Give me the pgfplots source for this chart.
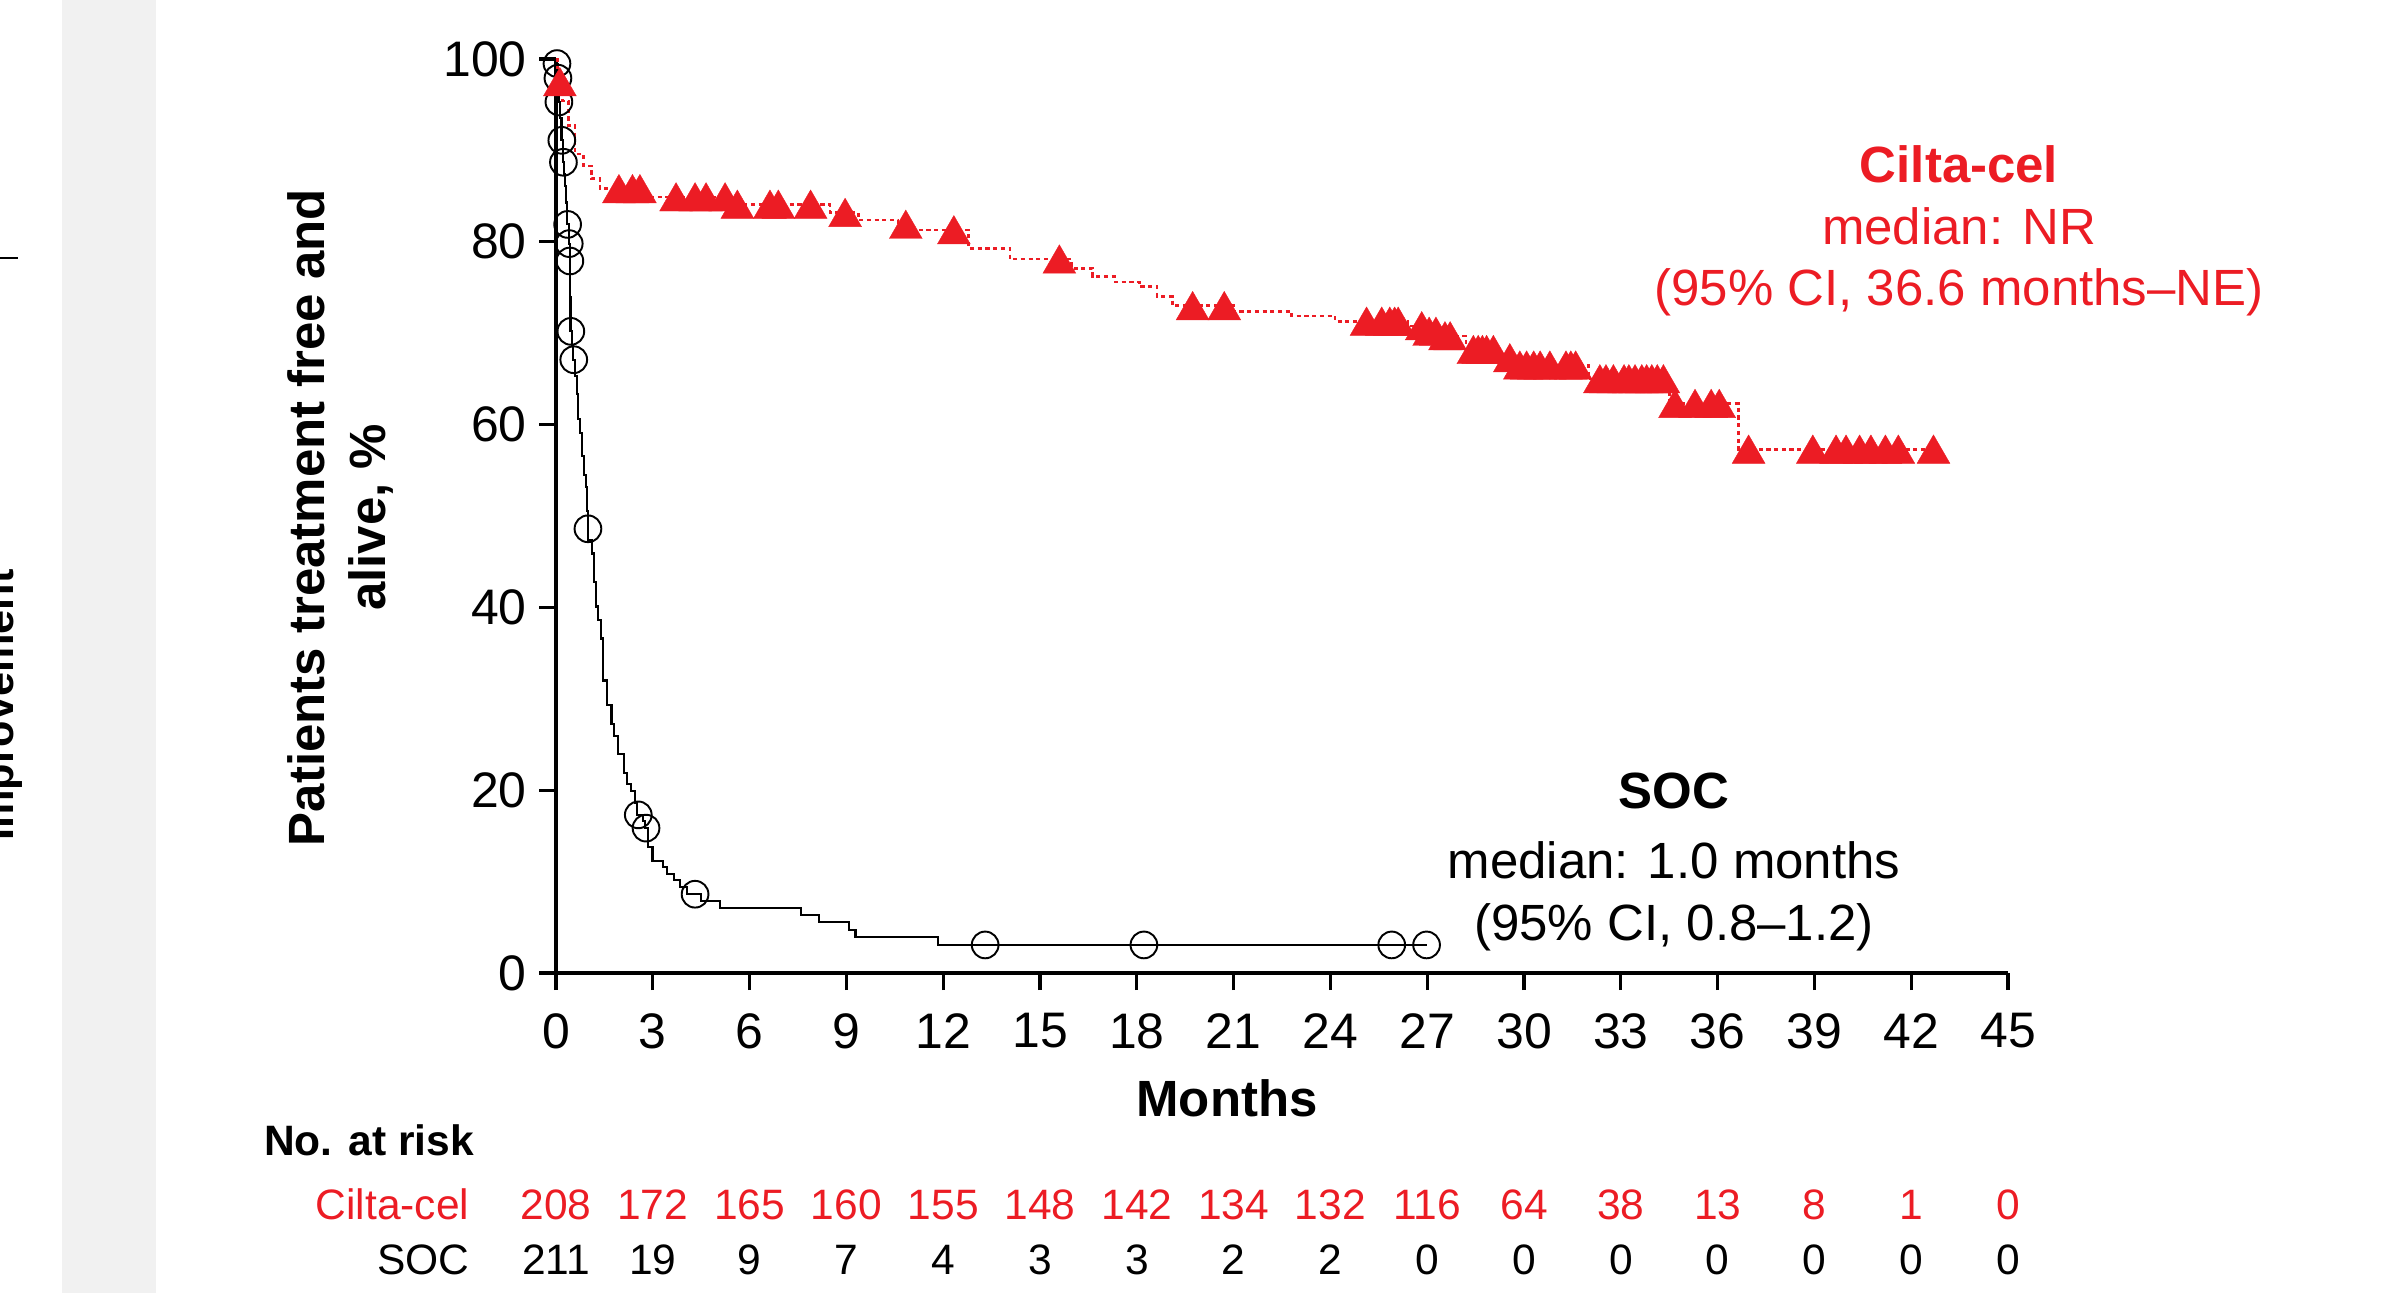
\documentclass[border=0pt]{standalone}
\usepackage{pgfplots}
\pgfplotsset{compat=1.18}
\usepackage{fontspec}
\setmainfont{Liberation Sans}
\definecolor{cRed}{RGB}{236,28,36}
\definecolor{band}{RGB}{241,241,241}
\newcommand{\fA}{\fontsize{14.5}{17}\selectfont}
\newcommand{\fR}{\fontsize{12.1}{14}\selectfont}
\begin{document}
\begin{tikzpicture}
\useasboundingbox (0,0) rectangle (24.02,12.93);
\fill[band] (0.62,0) rectangle (1.56,12.93);
\draw[line width=0.4pt] (0,10.35) -- (0.18,10.35);
\begin{scope}
\clip (0,0) rectangle (24.02,12.93);
\node[rotate=90, anchor=base, inner sep=0pt, font=\bfseries\fontsize{12.3}{14}\selectfont] at (0.14,5.88) {Improvement};
\end{scope}
% y label
\node[rotate=90, anchor=base, inner sep=0pt, font=\bfseries\fA] at (3.24,7.755) {Patients treatment free and};
\node[rotate=90, anchor=base, inner sep=0pt, font=\bfseries\fA] at (3.85,7.755) {alive, \%};
% x label
\node[anchor=base, inner sep=0pt, font=\bfseries\fA] at (12.27,1.77) {Months};
% annotations
\node[anchor=base, inner sep=0pt, font=\bfseries\fA, text=cRed] at (19.59,11.10) {Cilta-cel};
\node[anchor=base, inner sep=0pt, font=\fA, text=cRed] at (19.59,10.48) {median: NR};
\node[anchor=base, inner sep=0pt, font=\fA, text=cRed] at (19.59,9.87) {(95\% CI, 36.6 months–NE)};
\node[anchor=base, inner sep=0pt, font=\bfseries\fA] at (16.74,4.845) {SOC};
\node[anchor=base, inner sep=0pt, font=\fA] at (16.74,4.14) {median: 1.0 months};
\node[anchor=base, inner sep=0pt, font=\fA] at (16.74,3.53) {(95\% CI, 0.8–1.2)};
% risk table
\node[anchor=base west, inner sep=0pt, font=\bfseries\fR] at (2.635,1.38) {No. at risk};
\node[anchor=base east, inner sep=0pt, font=\fR, text=cRed] at (4.70,0.74) {Cilta-cel};
\node[anchor=base east, inner sep=0pt, font=\fR] at (4.70,0.19) {SOC};
\foreach \m/\a/\b in {0/208/211,3/172/19,6/165/9,9/160/7,12/155/4,15/148/3,18/142/3,21/134/2,24/132/2,27/116/0,30/64/0,33/38/0,36/13/0,39/8/0,42/1/0,45/0/0}{
  \node[anchor=base, inner sep=0pt, font=\fR, text=cRed] at ({5.56+0.32267*\m},0.74) {\a};
  \node[anchor=base, inner sep=0pt, font=\fR] at ({5.56+0.32267*\m},0.19) {\b};
}
\begin{axis}[
  at={(5.56cm,3.20cm)}, anchor=south west,
  scale only axis, width=14.52cm, height=9.14cm,
  xmin=0, xmax=45, ymin=0, ymax=100, enlargelimits=false,
  axis lines=left, axis line style={-, line width=0.9pt, black},
  xtick={0,3,...,45}, ytick={0,20,...,100},
  tick align=outside, major tick length=0.17cm,
  tick style={line width=0.9pt, black},
  ticklabel style={font=\fontsize{14.2}{16}\selectfont},
  xticklabel style={yshift=-0.11cm},
  /pgf/number format/assume math mode=true,
  clip=false,
]
\addplot[const plot, black, line width=0.6pt] coordinates {
(0,100) (0.02,99.5) (0.05,97.9) (0.08,95.3) (0.13,93.5) (0.17,91.1) (0.21,88.7) (0.25,87.4) (0.28,86.1) (0.31,84.3) (0.35,81.9) (0.39,79.8) (0.42,77.9) (0.44,74.0) (0.45,70.2) (0.50,68.6) (0.53,67.1) (0.58,65.3) (0.64,63.3) (0.69,60.6) (0.74,59.1) (0.81,56.6) (0.86,54.5) (0.92,53.2) (0.96,50.5) (0.99,48.6) (1.00,47.4) (1.12,45.9) (1.18,42.8) (1.24,40.1) (1.30,38.6) (1.40,36.6) (1.46,32.0) (1.57,29.3) (1.72,27.2) (1.81,25.9) (1.92,24.0) (2.10,21.9) (2.21,20.7) (2.33,19.9) (2.46,18.6) (2.52,17.3) (2.70,16.6) (2.76,15.85) (2.86,13.8) (2.99,12.3) (3.31,11.6) (3.45,10.8) (3.67,10.2) (3.84,9.4) (4.05,8.62) (4.49,7.92) (5.08,7.08) (7.6,6.35) (8.16,5.55) (9.09,4.72) (9.28,3.98) (11.83,3.07) (26.98,3.07)
};
\addplot[only marks, mark=o, mark size=3.8pt, mark options={line width=0.55pt, black}] coordinates {
(0.03,99.5) (0.06,97.9) (0.09,95.3) (0.18,91.1) (0.23,88.7) (0.36,81.9) (0.41,79.8) (0.43,77.9) (0.46,70.2) (0.55,67.1) (0.99,48.6) (2.55,17.3) (2.79,15.85) (4.31,8.62) (13.3,3.07) (18.22,3.07) (25.9,3.07) (26.98,3.07)
};
\addplot[const plot, color=cRed, line width=0.75pt, dash pattern=on 1.2pt off 1.0pt] coordinates {
(0,100) (0.05,97.5) (0.2,95.4) (0.38,92.7) (0.59,89.6) (0.85,88.3) (1.1,86.9) (1.36,85.8) (2.7,84.9) (5.45,84.1) (8.49,83.2) (9.37,82.4) (10.6,81.9) (10.95,81.3) (12.78,79.3) (14.07,78.1) (15.98,77.1) (16.63,76.2) (17.32,75.6) (18.08,75.1) (18.63,74.0) (19.11,73.0) (20.99,72.4) (22.8,71.9) (24.14,71.3) (26.4,70.8) (26.95,70.2) (27.4,69.7) (28.2,68.2) (29.3,67.3) (29.7,66.5) (32.0,65.0) (34.5,62.3) (36.64,57.3) (42.69,57.3)
};
\addplot[only marks, mark=triangle*, mark size=5.4pt, color=cRed, mark options={fill=cRed, draw=cRed, line width=0.1pt, solid, yshift=-1.3pt}] coordinates {
(0.12,97.5)
(1.95,85.8) (2.37,85.8) (2.6,85.8)
(3.72,84.9) (4.31,84.9) (4.65,84.9) (5.24,84.9)
(5.62,84.1) (6.63,84.1) (6.89,84.1) (7.89,84.1)
(8.96,83.2)
(10.84,81.9)
(12.33,81.3)
(15.6,78.1)
(19.73,73.0) (20.71,73.0)
(25.12,71.3) (25.59,71.3) (25.84,71.3) (25.99,71.3) (26.1,71.3)
(26.83,70.8) (27.06,70.2) (27.27,70.2) (27.55,69.7) (27.71,69.7)
(28.43,68.2) (28.58,68.2) (28.71,68.2) (28.84,68.2) (29.05,68.2)
(29.56,67.3)
(29.87,66.5) (30.08,66.5) (30.3,66.5) (30.5,66.5) (30.8,66.5) (31.3,66.5) (31.45,66.5) (31.6,66.5)
(32.35,65.0) (32.54,65.0) (32.77,65.0) (33.1,65.0) (33.25,65.0) (33.44,65.0) (33.65,65.0) (33.8,65.0) (33.96,65.0) (34.13,65.0) (34.32,65.0)
(34.68,62.3) (35.3,62.3) (35.8,62.3) (36.05,62.3)
(36.96,57.3) (38.95,57.3) (39.67,57.3) (39.98,57.3) (40.4,57.3) (40.75,57.3) (41.2,57.3) (41.6,57.3) (42.69,57.3)
};
\end{axis}
\end{tikzpicture}
\end{document}
